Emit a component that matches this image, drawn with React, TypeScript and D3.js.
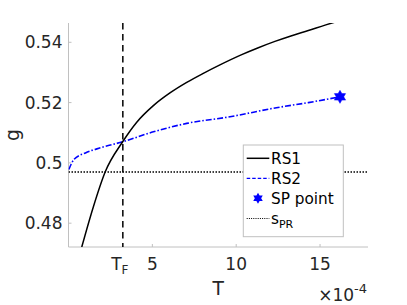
import * as d3 from "d3";

// RS1 (black solid) : T (x1e-4) vs g
const rs1T = [0.79, 1.48, 2.18, 3.23, 4.07, 5.06, 6.05, 7.05, 8.04, 9.03, 10.33, 11.32, 12.31, 13.31, 14.3, 15.3, 16.19];
const rs1G = [0.4721, 0.4854, 0.4969, 0.507, 0.5135, 0.519, 0.5232, 0.5267, 0.5297, 0.5325, 0.5359, 0.5382, 0.5403, 0.5422, 0.5439, 0.5457, 0.5472];

// RS2 (blue dash-dot)
const rs2T = [0.02, 0.32, 1.01, 1.9, 3.23, 5.06, 7.05, 9.63, 12.4, 14.3, 16.19];
const rs2G = [0.4978, 0.5011, 0.5033, 0.505, 0.507, 0.5103, 0.5131, 0.5153, 0.5183, 0.52, 0.5219];

// SP point
const spT = 16.19;
const spG = 0.5219;

const sPR = 0.497;
const tF = 3.24;

const xTicks = [5, 10, 15];
const yTicks = [0.48, 0.5, 0.52, 0.54];
const yTickLabels = ["0.48", "0.5", "0.52", "0.54"];
const legendLabels = ["RS1", "RS2", "SP point", "s"];

const W = 407;
const H = 305;
const left = 68.5;
const right = 368;
const top = 23;
const bottom = 247;

const font = "'DejaVu Sans', sans-serif";
const axisColor = "#c0c0c0";
const textColor = "#262626";

function hexagram(cx: number, cy: number, r: number) {
  const p = d3.path();
  for (let i = 0; i < 12; i++) {
    const a = (Math.PI / 6) * i - Math.PI / 2;
    const rr = i % 2 === 0 ? r : r * 0.577;
    const x = cx + rr * Math.cos(a);
    const y = cy + rr * Math.sin(a);
    if (i === 0) p.moveTo(x, y);
    else p.lineTo(x, y);
  }
  p.closePath();
  return p.toString();
}

export default function App() {
  const x = d3.scaleLinear().domain([0, 17.86]).range([left, right]);
  const y = d3.scaleLinear().domain([0.4721, 0.5464]).range([bottom, top]);

  const line = d3
    .line<[number, number]>()
    .x((d) => x(d[0]))
    .y((d) => y(d[1]))
    .curve(d3.curveMonotoneX);

  const rs1 = rs1T.map((t, i) => [t, rs1G[i]] as [number, number]);
  const rs2 = rs2T.map((t, i) => [t, rs2G[i]] as [number, number]);

  const lgX = 243.3;
  const lgY = 145;
  const lgW = 100;
  const lgH = 91.7;
  const rowY = [158.3, 178.3, 198.3, 218.5];
  const sx1 = 246.7;
  const sx2 = 269.3;
  const tx = 271;

  return (
    <svg
      width={W}
      height={H}
      style={{ position: "absolute", left: 0, top: 0, background: "#fff" }}
      fontFamily={font}
    >
      <defs>
        <clipPath id="plot">
          <rect x={left} y={top} width={right - left} height={bottom - top} />
        </clipPath>
      </defs>
      <rect width={W} height={H} fill="#fff" />

      {/* axes */}
      <line x1={left} y1={top} x2={left} y2={bottom} stroke={axisColor} strokeWidth={1} />
      <line x1={left} y1={bottom} x2={right} y2={bottom} stroke={axisColor} strokeWidth={1} />
      {yTicks.map((t, i) => (
        <g key={t}>
          <line x1={left} x2={left + 3} y1={y(t)} y2={y(t)} stroke={axisColor} />
          <text
            x={left - 6}
            y={y(t)}
            dy="0.36em"
            textAnchor="end"
            fontSize={17}
            fill={textColor}
          >
            {yTickLabels[i]}
          </text>
        </g>
      ))}
      {xTicks.map((t) => (
        <g key={t}>
          <line x1={x(t)} x2={x(t)} y1={bottom} y2={bottom - 3} stroke={axisColor} />
          <text x={x(t)} y={270} textAnchor="middle" fontSize={17} fill={textColor}>
            {t}
          </text>
        </g>
      ))}
      <text x={x(tF) - 3} y={270} textAnchor="middle" fontSize={17} fill={textColor}>
        T
        <tspan fontSize={12} dy={4}>
          F
        </tspan>
      </text>

      {/* labels */}
      <text x={(left + right) / 2} y={295} textAnchor="middle" fontSize={18.7} fill={textColor}>
        T
      </text>
      <text
        transform={`translate(18.5, ${(top + bottom) / 2}) rotate(-90)`}
        textAnchor="middle"
        fontSize={18.7}
        fill={textColor}
      >
        g
      </text>
      <text x={right - 1} y={300.5} textAnchor="end" fontSize={17} fill={textColor}>
        ×10
        <tspan fontSize={13} dy={-8}>
          -4
        </tspan>
      </text>

      {/* data */}
      <g clipPath="url(#plot)">
        <line
          x1={left}
          x2={right}
          y1={y(sPR)}
          y2={y(sPR)}
          stroke="#000"
          strokeWidth={1.5}
          strokeDasharray="1.5,1.5"
        />
        <line
          x1={x(tF)}
          x2={x(tF)}
          y1={top}
          y2={bottom}
          stroke="#000"
          strokeWidth={1.5}
          strokeDasharray="6.5,4.5"
        />
        <path d={line(rs2) ?? ""} fill="none" stroke="#0000ff" strokeWidth={1.6} strokeDasharray="6,2,1.5,2" />
        <path d={line(rs1) ?? ""} fill="none" stroke="#000" strokeWidth={1.5} />
      </g>
      <path d={hexagram(x(spT), y(spG), 6.5)} fill="#0000ff" stroke="#0000ff" strokeWidth={0.5} />

      {/* legend */}
      <rect x={lgX} y={lgY} width={lgW} height={lgH} fill="#fff" stroke={axisColor} strokeWidth={1} />
      <line x1={sx1} x2={sx2} y1={rowY[0]} y2={rowY[0]} stroke="#000" strokeWidth={1.5} />
      <line x1={sx1} x2={sx2} y1={rowY[1]} y2={rowY[1]} stroke="#0000ff" strokeWidth={1.3} strokeDasharray="3.5,2" />
      <path d={hexagram((sx1 + sx2) / 2, rowY[2], 5.5)} fill="#0000ff" />
      <line x1={sx1} x2={sx2} y1={rowY[3]} y2={rowY[3]} stroke="#000" strokeWidth={1.2} strokeDasharray="1,1.2" />
      {legendLabels.map((l, i) => (
        <text key={l} x={tx} y={rowY[i]} dy="0.36em" fontSize={15.3} fill="#000">
          {l}
          {i === 3 ? (
            <tspan fontSize={11} dy={4}>
              PR
            </tspan>
          ) : null}
        </text>
      ))}
    </svg>
  );
}
